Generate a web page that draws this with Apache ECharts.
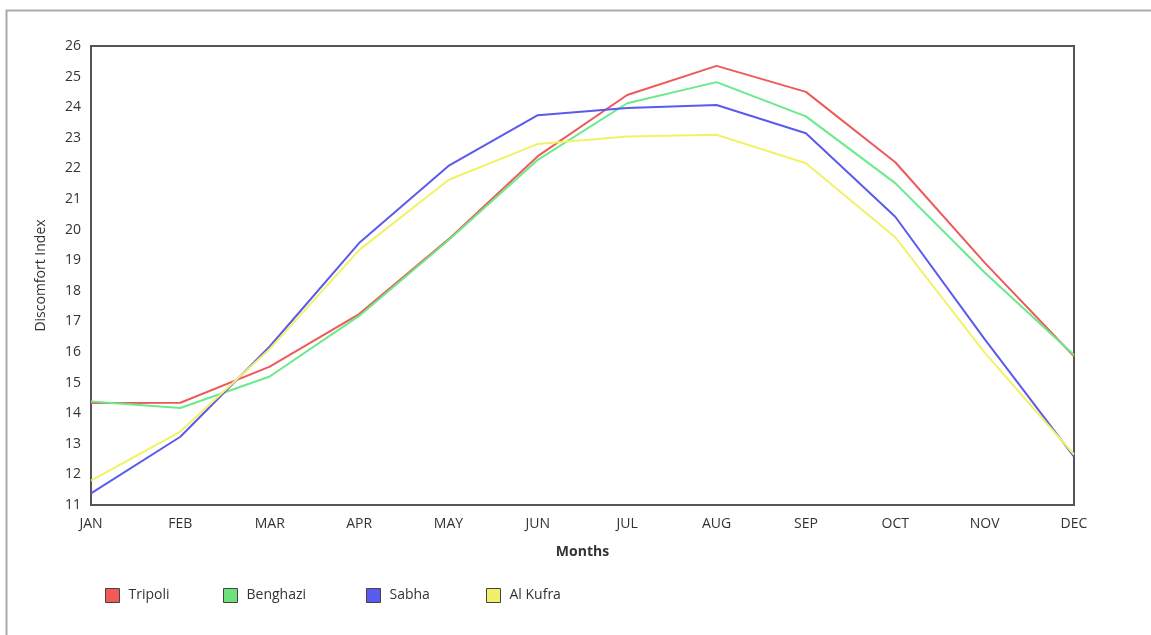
<!DOCTYPE html>
<html>
<head>
<meta charset="utf-8">
<script src="https://cdn.jsdelivr.net/npm/echarts@6/dist/echarts.min.js"></script>
<style>
html,body{margin:0;padding:0;background:#fff;}
#chart{width:1151px;height:635px;}
</style>
</head>
<body>
<div id="chart"></div>
<script>
const months = ['JAN','FEB','MAR','APR','MAY','JUN','JUL','AUG','SEP','OCT','NOV','DEC'];
const tripoli  = [14.33, 14.34, 15.52, 17.24, 19.68, 22.40, 24.40, 25.35, 24.50, 22.20, 18.92, 15.86];
const benghazi = [14.38, 14.17, 15.20, 17.18, 19.65, 22.28, 24.13, 24.82, 23.70, 21.52, 18.60, 15.90];
const sabha    = [11.38, 13.23, 16.18, 19.56, 22.08, 23.74, 23.97, 24.07, 23.15, 20.42, 16.42, 12.58];
const alKufra  = [11.80, 13.40, 16.10, 19.33, 21.62, 22.80, 23.04, 23.10, 22.17, 19.75, 15.98, 12.65];
const seriesNames = ['Tripoli','Benghazi','Sabha','Al Kufra'];
const yTicks = { min: 11, max: 26, interval: 1 };

const lineColors = ['#ee5a5a', '#6aea8a', '#5a5aee', '#f2f266'];
const legendFill = ['#f25a5a', '#6ee07c', '#5a5af0', '#f0f06a'];
const legendLeft = [100, 218, 361, 481];
const values = [tripoli, benghazi, sabha, alKufra];
const font = '"Open Sans", "Noto Sans", sans-serif';

const chart = echarts.init(document.getElementById('chart'), null, {renderer:'canvas'});
chart.setOption({
  backgroundColor: '#fff',
  animation: false,
  textStyle: { fontFamily: font },
  graphic: [{
    type: 'rect', z: -1, silent: true,
    shape: { x: 6.5, y: 10.5, width: 1200, height: 700 },
    style: { fill: 'none', stroke: '#aaaaaa', lineWidth: 2 }
  }],
  grid: {
    left: 91, right: 77, top: 46, bottom: 130,
    show: true, borderColor: '#555', borderWidth: 2, backgroundColor: 'transparent'
  },
  legend: seriesNames.map((n, i) => ({
    data: [{ name: n, itemStyle: { color: legendFill[i], borderColor: '#444', borderWidth: 1 } }],
    left: legendLeft[i], top: 583,
    icon: 'rect', itemWidth: 14, itemHeight: 14, itemGap: 10,
    textStyle: { fontFamily: font, fontSize: 14, color: '#333', padding: [0, 0, 0, 4] }
  })),
  xAxis: {
    type: 'category', data: months, boundaryGap: false,
    name: 'Months', nameLocation: 'middle', nameGap: 40,
    nameTextStyle: { fontFamily: font, fontSize: 14, fontWeight: 'bold', color: '#333' },
    axisLine: { lineStyle: { color: '#555', width: 2 } },
    axisTick: { show: false },
    axisLabel: { fontFamily: font, fontSize: 14, color: '#333', margin: 12 },
    splitLine: { show: false }
  },
  yAxis: {
    type: 'value', min: yTicks.min, max: yTicks.max, interval: yTicks.interval,
    name: 'Discomfort Index', nameLocation: 'middle', nameGap: 43,
    nameTextStyle: { fontFamily: font, fontSize: 14, color: '#333' },
    axisLine: { show: true, lineStyle: { color: '#555', width: 2 } },
    axisTick: { show: false },
    axisLabel: { fontFamily: font, fontSize: 14, color: '#333', margin: 10 },
    splitLine: { show: false }
  },
  series: seriesNames.map((n, i) => ({
    name: n, type: 'line', data: values[i],
    showSymbol: false, symbol: 'none',
    lineStyle: { color: lineColors[i], width: 2 },
    itemStyle: { color: lineColors[i] }
  }))
});
</script>
</body>
</html>
